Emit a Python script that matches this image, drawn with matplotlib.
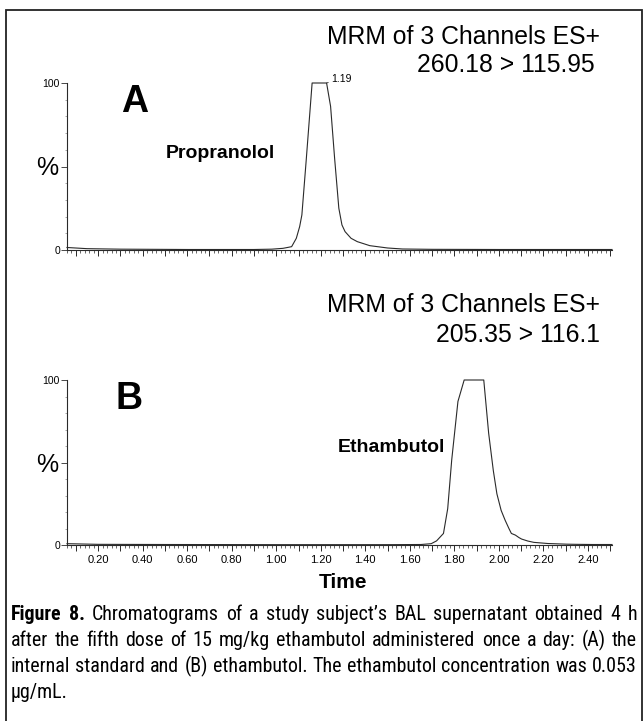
import numpy as np
import matplotlib
matplotlib.use("Agg")
import matplotlib.pyplot as plt
import matplotlib.font_manager as fm
from matplotlib.ticker import MultipleLocator, FixedLocator, FuncFormatter
from matplotlib.patches import Rectangle

# ---------------- data ----------------
time_a = [0.06, 0.15, 0.30, 0.60, 0.90, 0.98, 1.03, 1.05, 1.069, 1.09, 1.105, 1.115,
          1.134, 1.161, 1.226, 1.244, 1.262, 1.281, 1.295, 1.309, 1.336, 1.364,
          1.42, 1.50, 1.567, 1.70, 2.00, 2.30, 2.508]
pct_a = [1.5, 0.8, 0.5, 0.3, 0.3, 0.5, 1.0, 1.5, 2.0, 7.0, 14.0, 21.0,
         53.0, 100.0, 100.0, 86.0, 55.0, 25.0, 15.0, 11.0, 7.0, 5.0,
         2.6, 1.2, 0.6, 0.4, 0.3, 0.3, 0.3]

time_b = [0.06, 0.20, 0.50, 1.00, 1.50, 1.65, 1.696, 1.72, 1.751, 1.77, 1.788, 1.816,
          1.844, 1.932, 1.954, 1.975, 1.991, 2.01, 2.028, 2.045, 2.056, 2.074, 2.09,
          2.102, 2.13, 2.157, 2.22, 2.305, 2.35, 2.42, 2.508]
pct_b = [0.8, 0.4, 0.3, 0.2, 0.2, 0.3, 0.8, 2.5, 7.0, 22.0, 51.5, 87.0,
         100.0, 100.0, 67.7, 45.0, 31.0, 21.0, 15.0, 10.0, 7.0, 6.0, 4.5,
         3.6, 2.4, 1.6, 0.9, 0.5, 0.4, 0.3, 0.3]

peak_a_label = "1.19"
peak_a_time = 1.226
compound_a = "Propranolol"
compound_b = "Ethambutol"
mrm_title = "MRM of 3 Channels ES+"
transition_a = "260.18 > 115.95"
transition_b = "205.35 > 116.1"
x_label = "Time"
caption_lines = [
    [("Figure 8.", "bold"), ("Chromatograms of a study subject\u2019s BAL supernatant obtained 4 h", "normal")],
    [("after the fifth dose of 15 mg/kg ethambutol administered once a day: (A) the", "normal")],
    [("internal standard and (B) ethambutol. The ethambutol concentration was 0.053", "normal")],
    [("\u03bcg/mL.", "normal")],
]

# ---------------- fonts ----------------
avail = {f.name for f in fm.fontManager.ttflist}
def pick(cands, default):
    for c in cands:
        if c in avail:
            return c
    return default
SANS = pick(["Liberation Sans", "Arimo", "Nimbus Sans"], "DejaVu Sans")
COND = pick(["Liberation Sans Narrow", "Roboto Condensed", "Open Sans Condensed",
             "Noto Sans Condensed", "Arial Narrow", "Lato"], "Roboto")

W, H = 644, 721
fig = plt.figure(figsize=(W / 100, H / 100), dpi=100)
def fx(x): return x / W
def fy(y): return 1 - y / H

LINE_C = "#2a2a2a"

def make_axes(y_top, y_bot, show_labels):
    ax = fig.add_axes([fx(67), fy(y_bot), fx(612) - fx(67), fy(y_top) - fy(y_bot)])
    ax.patch.set_alpha(0)
    ax.set_xlim(0.06, 2.508)
    ax.set_ylim(0, 100)
    for s in ("top", "right"):
        ax.spines[s].set_visible(False)
    for s in ("left", "bottom"):
        ax.spines[s].set_linewidth(0.8)
        ax.spines[s].set_color(LINE_C)
    ax.xaxis.set_major_locator(MultipleLocator(0.1))
    ax.xaxis.set_minor_locator(MultipleLocator(0.02))
    ax.yaxis.set_major_locator(FixedLocator([0, 50, 100]))
    ax.yaxis.set_minor_locator(MultipleLocator(10))
    ax.tick_params(axis="x", which="major", length=4, width=0.7, color=LINE_C, pad=3,
                   labelsize=8, direction="out")
    ax.tick_params(axis="x", which="minor", length=2, width=0.5, color=LINE_C, direction="out")
    ax.tick_params(axis="y", which="major", length=4, width=0.6, color=LINE_C, pad=1,
                   labelsize=7.5, direction="out")
    ax.tick_params(axis="y", which="minor", length=1.5, width=0.4, color="#666666", direction="out")
    def xfmt(v, pos):
        if not show_labels:
            return ""
        k = int(round(v * 10))
        if k % 2 == 0 and k >= 2:
            return f"{v:.2f}"
        return ""
    ax.xaxis.set_major_formatter(FuncFormatter(xfmt))
    ax.yaxis.set_major_formatter(FuncFormatter(lambda v, p: "100" if v == 100 else ("0" if v == 0 else "")))
    for lab in ax.get_xticklabels() + ax.get_yticklabels():
        lab.set_fontfamily(SANS)
    return ax

axA = make_axes(83, 250, False)
axB = make_axes(380, 545, True)

axA.plot(time_a, pct_a, color=LINE_C, lw=0.8, clip_on=False)
axB.plot(time_b, pct_b, color=LINE_C, lw=0.8, clip_on=False)

axA.annotate(peak_a_label, xy=(peak_a_time, 100), xytext=(1.246, 102.6),
             fontsize=7.5, family=SANS, ha="left", va="center",
             arrowprops=dict(arrowstyle="-", lw=0.6, color=LINE_C, shrinkA=0, shrinkB=0),
             annotation_clip=False)

# ---------------- texts ----------------
def t(x, y, s, **kw):
    kw.setdefault("family", SANS)
    return fig.text(fx(x), fy(y), s, **kw)

t(600, 43.5, mrm_title, fontsize=17.8, ha="right", va="baseline")
t(595, 71.5, transition_a, fontsize=17.8, ha="right", va="baseline")
t(600, 312.5, mrm_title, fontsize=17.8, ha="right", va="baseline")
t(600, 341.5, transition_b, fontsize=17.8, ha="right", va="baseline")

t(135, 112, "A", fontsize=27, weight="bold", ha="center", va="baseline")
t(129, 409, "B", fontsize=27, weight="bold", ha="center", va="baseline")
t(166, 158.5, compound_a, fontsize=14, weight="bold", ha="left", va="baseline")
t(337.5, 451.5, compound_b, fontsize=14, weight="bold", ha="left", va="baseline")
t(47, 175, "%", fontsize=18, ha="center", va="baseline")
t(47, 472, "%", fontsize=18, ha="center", va="baseline")
t(343, 587.5, x_label, fontsize=15, weight="bold", ha="center", va="baseline")

# ---------------- caption (justified) ----------------
fig.canvas.draw()
renderer = fig.canvas.get_renderer()
X0, X1 = 11, 637
cap_base = [620, 646, 672, 698]

def measure(s, weight, size):
    tt = fig.text(0, 0, s, family=COND, weight=weight, fontsize=size)
    w = tt.get_window_extent(renderer).width
    tt.remove()
    return w

ref_size = 10.0
space_w = measure("a a", "normal", ref_size) - measure("aa", "normal", ref_size)
nat = []
for line in caption_lines[:3]:
    total = 0
    nwords = 0
    for seg, wt in line:
        for w in seg.split(" "):
            total += measure(w, wt, ref_size)
            nwords += 1
    total += space_w * (nwords - 1)
    nat.append(total)
cap_size = ref_size * (X1 - X0) / max(nat) * 0.99

for i, line in enumerate(caption_lines):
    words = []
    for seg, wt in line:
        for w in seg.split(" "):
            words.append((w, wt))
    widths = [measure(w, wt, cap_size) for w, wt in words]
    if i < 3 and len(words) > 1:
        gap = (X1 - X0 - sum(widths)) / (len(words) - 1)
    else:
        gap = space_w * cap_size / ref_size
    x = X0
    for (w, wt), wd in zip(words, widths):
        t(x, cap_base[i], w, family=COND, weight=wt, fontsize=cap_size, ha="left", va="baseline")
        x += wd + gap

# frame
fig.patches.append(Rectangle((fx(6), fy(724)), fx(642) - fx(6), fy(10) - fy(724),
                             transform=fig.transFigure, fill=False, lw=1.3,
                             edgecolor="#222222", clip_on=False))

fig.savefig("out.png", dpi=100)
